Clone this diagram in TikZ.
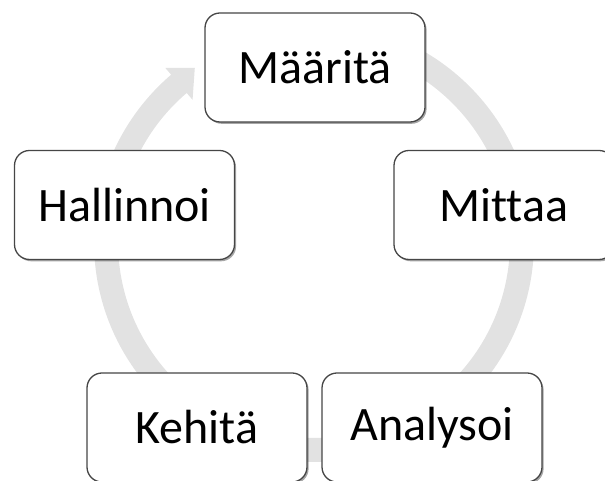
\documentclass[tikz,border=0pt]{standalone}
\usepackage{fontspec}
\setmainfont[Ligatures=NoCommon]{Carlito}
\usetikzlibrary{shadows}
\definecolor{ringgray}{RGB}{226,226,226}
\definecolor{boxline}{RGB}{70,70,70}
\tikzset{
  stepbox/.style={
    draw=boxline, line width=1.3pt, fill=white,
    rounded corners=15pt,
    minimum width=220pt, minimum height=109pt,
    inner sep=0pt,
    font=\fontsize{48pt}{58pt}\selectfont,
    drop shadow={shadow xshift=1.6pt, shadow yshift=-1.8pt, opacity=0.35, fill=black}
  }
}
\begin{document}
\begin{tikzpicture}[x=1pt,y=1pt]
\useasboundingbox (0,0) rectangle (605,481);
\clip (0,0) rectangle (605,481);
% ring centre
\coordinate (c) at (314,239);
% circular arrow: band of width 24 with a head ending beside the first step
\fill[ringgray]
  ([shift={(90:220)}]c) arc[start angle=90, end angle=-229.5, radius=220]
  -- ([shift={(-229.5:229)}]c)
  -- ([shift={(-235.6:211)}]c)
  -- ([shift={(-229.5:187)}]c)
  -- ([shift={(-229.5:196)}]c)
  arc[start angle=-229.5, end angle=90, radius=196]
  -- cycle;
% steps of the cycle
\node[stepbox] (maarita)   at (315,413.5) {Määritä};
\node[stepbox] (mittaa)    at (504,276)   {Mittaa};
\node[stepbox] (analysoi)  at (432,53.5)  {Analysoi};
\node[stepbox] (kehita)    at (197,53.5)  {Kehitä};
\node[stepbox] (hallinnoi) at (124.5,276) {Hallinnoi};
\end{tikzpicture}
\end{document}
